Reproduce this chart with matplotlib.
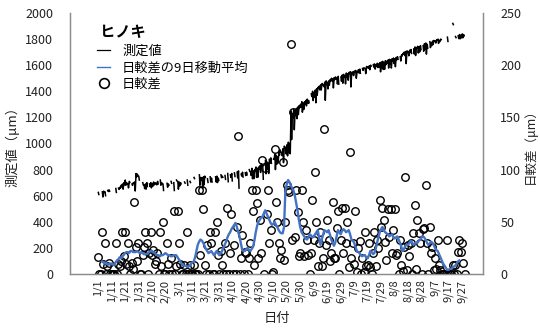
import numpy as np
import matplotlib
matplotlib.use('Agg')
import matplotlib.pyplot as plt
from matplotlib.lines import Line2D

plt.rcParams['font.family'] = ['Noto Sans CJK JP', 'DejaVu Sans']

# 日較差 (um), one value per day starting 1/1
day_range = [
    16, 0, 0, 40, 10, 30, 0, 8, 11, 0,
    0, 0, 0, 30, 0, 10, 8, 12, 40, 17,
    40, 10, 30, 8, 0, 11, 5, 69, 26, 12,
    30, 0, 0, 18, 26, 40, 30, 0, 20, 40,
    18, 23, 10, 12, 20, 0, 40, 8, 50, 0,
    0, 30, 10, 0, 15, 0, 60, 0, 8, 60,
    30, 10, 0, 0, 9, 0, 40, 0, 9, 0,
    0, 9, 0, 0, 0, 80, 18, 80, 62, 9,
    0, 28, 0, 40, 30, 0, 0, 40, 50, 18,
    0, 22, 9, 0, 30, 0, 63, 0, 20, 57,
    0, 28, 0, 45, 132, 0, 15, 37, 0, 21,
    20, 0, 15, 30, 80, 60, 9, 80, 68, 15,
    52, 20, 109, 0, 102, 57, 80, 30, 42, 0,
    2, 120, 69, 50, 30, 15, 23, 107, 13, 50,
    85, 80, 79, 220, 33, 155, 35, 80, 59, 17,
    20, 80, 50, 17, 42, 33, 18, 0, 20, 71,
    33, 98, 50, 8, 30, 40, 8, 15, 139, 28,
    52, 33, 12, 20, 69, 15, 15, 44, 60, 0,
    33, 63, 20, 63, 30, 50, 7, 117, 15, 30,
    10, 60, 2, 25, 32, 0, 15, 2, 40, 8,
    9, 30, 7, 0, 20, 40, 8, 33, 25, 71,
    45, 63, 52, 31, 13, 62, 35, 62, 20, 42,
    62, 18, 20, 0, 33, 9, 3, 26, 93, 4,
    28, 17, 30, 0, 39, 66, 5, 52, 39, 30,
    0, 43, 44, 85, 30, 0, 45, 20, 26, 4,
    15, 5, 33, 9, 4, 0, 0, 0, 0, 33,
    0, 0, 0, 9, 0, 9, 0, 21, 33, 21, 30, 11, 0,
]

# daily maximum of the stem measurement (um)
meas_top = [
    625, 620, 615, 630, 635, 630, 628, 640, 645, 640,
    642, 650, 648, 655, 660, 658, 665, 680, 690, 700,
    720, 700, 690, 710, 700, 690, 700, 705, 770, 765,
    750, 740, 745, 700, 680, 690, 700, 710, 690, 700,
    690, 705, 700, 695, 710, 700, 720, 700, 690, 705,
    700, 695, 690, 700, 710, 705, 700, 690, 720, 710,
    705, 700, 715, 720, 705, 700, 720, 715, 710, 720,
    725, 740, 730, 750, 730, 760, 740, 735, 745, 750,
    740, 730, 750, 745, 735, 740, 760, 745, 750, 735,
    745, 760, 750, 740, 755, 760, 770, 765, 760, 770,
    760, 775, 770, 780, 790, 770, 765, 780, 790, 775,
    780, 790, 800, 785, 810, 790, 800, 820, 810, 820,
    830, 845, 835, 850, 870, 860, 850, 880, 890, 900,
    880, 920, 910, 900, 940, 950, 930, 960, 980, 970,
    990, 1010, 1000, 1250, 1230, 1260, 1250, 1270, 1280, 1290,
    1300, 1320, 1310, 1320, 1330, 1340, 1330, 1360, 1380, 1400,
    1390, 1410, 1420, 1430, 1440, 1450, 1460, 1450, 1470, 1480,
    1470, 1480, 1490, 1500, 1495, 1505, 1510, 1500, 1515, 1520,
    1510, 1525, 1530, 1520, 1540, 1535, 1545, 1550, 1545, 1550,
    1555, 1560, 1550, 1565, 1570, 1565, 1575, 1580, 1575, 1590,
    1585, 1595, 1600, 1590, 1605, 1610, 1600, 1615, 1610, 1620,
    1625, 1630, 1620, 1635, 1630, 1640, 1645, 1640, 1650, 1655,
    1650, 1660, 1665, 1670, 1665, 1680, 1690, 1700, 1705, 1710,
    1700, 1715, 1720, 1710, 1725, 1740, 1735, 1745, 1740, 1750,
    1755, 1750, 1765, 1770, 1760, 1775, 1780, 1770, 1785, 1790,
    1785, 1795, 1800, 1790, 1800, 1805, 1800, 1810, 1805, 1815,
    1810, 1820, 1815, 1920, 1825, 1820, 1830, 1825, 1835, 1830, 1840, 1835, 1830,
]

# 9-day moving average of 日較差, first value belongs to day 3
ma_start = 3
ma_values = [
    12, 11, 10, 11, 9, 9, 10,
    10, 9, 9, 11, 13, 14, 16, 15, 17, 18,
    20, 21, 21, 20, 22, 22, 21, 21, 21, 22,
    21, 20, 21, 20, 19, 19, 19, 20, 21, 22,
    22, 21, 20, 19, 18, 18, 17, 18, 18, 19,
    20, 19, 18, 18, 17, 17, 18, 18, 18, 16,
    14, 12, 10, 8, 8, 8, 7, 7, 8, 10,
    11, 12, 16, 22, 28, 31, 33, 32, 30, 27,
    24, 22, 20, 21, 22, 20, 18, 20, 22, 20,
    18, 20, 22, 25, 28, 31, 35, 38, 40, 43,
    45, 47, 49, 45, 40, 36, 29, 23, 22, 22,
    24, 25, 23, 22, 24, 26, 32, 40, 46, 50,
    52, 54, 55, 58, 61, 58, 55, 52, 49, 47,
    48, 50, 47, 45, 42, 40, 39, 39, 45, 80,
    86, 90, 88, 85, 82, 80, 75, 68, 61, 52,
    45, 40, 38, 36, 34, 33, 35, 38, 37, 35,
    36, 38, 40, 42, 35, 28, 33, 38, 42, 41,
    40, 42, 38, 33, 30, 27, 30, 36, 42, 40,
    38, 41, 43, 42, 40, 41, 42, 38, 33, 32,
    30, 26, 22, 21, 20, 18, 17, 18, 18, 16,
    15, 18, 22, 21, 19, 20, 24, 30, 35, 40,
    43, 45, 42, 40, 39, 38, 36, 37, 38, 36,
    34, 35, 36, 33, 30, 26, 22, 24, 27, 28,
    28, 30, 32, 30, 28, 29, 30, 30, 32, 33,
    35, 36, 35, 33, 30, 28, 29, 31, 30, 28,
    25, 23, 22, 19, 16, 13, 10, 8, 6, 4,
    4, 5, 5, 6, 7, 8, 10, 12, 13,
]

date_labels = ['1/1', '1/11', '1/21', '1/31', '2/10', '2/20', '3/1', '3/11',
               '3/21', '3/31', '4/10', '4/20', '4/30', '5/10', '5/20', '5/30',
               '6/9', '6/19', '6/29', '7/9', '7/19', '7/29', '8/8', '8/18',
               '8/28', '9/7', '9/17', '9/27']

text_color = '#222222'
axis_color = '#8c8c8c'
blue = '#4472c4'

# measured series: morning maximum then afternoon minimum for each day,
# broken where no daily range was recorded
mx, my = [], []
for d, (top, rng) in enumerate(zip(meas_top, day_range)):
    if rng == 0:
        mx.append(np.nan)
        my.append(np.nan)
        continue
    mx += [d + 0.2, d + 0.6]
    my += [top, top - rng]

fig = plt.figure(figsize=(5.40, 3.28), dpi=100)
ax = fig.add_axes([70 / 540, 1 - 274 / 328, 413 / 540, 261 / 328])
ax2 = ax.twinx()

ax.plot(mx, my, color='black', lw=1.1)

days = np.arange(len(day_range))
ax2.plot(days, day_range, ls='none', marker='o', ms=5.4, mfc='none',
         mec='black', mew=1.0)
ma_days = np.arange(ma_start, ma_start + len(ma_values))
ax2.plot(ma_days, ma_values, color=blue, lw=1.7)

ax.set_xlim(-20.8, 285.6)
ax.set_ylim(0, 2000)
ax2.set_ylim(0, 250)

ax.set_yticks(np.arange(0, 2001, 200))
ax2.set_yticks(np.arange(0, 251, 50))
ax.set_xticks(np.arange(len(date_labels)) * 10)
ax.set_xticklabels(date_labels, rotation=90, fontsize=8, color=text_color)
ax.tick_params(axis='x', length=0, pad=4)
ax.tick_params(axis='y', length=0, labelsize=9, labelcolor=text_color, pad=12)
ax2.tick_params(axis='y', length=0, labelsize=9, labelcolor=text_color, pad=12.5)

# small inward marks at the top of both value axes
ax.set_yticks([2000], minor=True)
ax2.set_yticks([250], minor=True)
ax.tick_params(axis='y', which='minor', direction='in', length=4,
               color=axis_color)
ax2.tick_params(axis='y', which='minor', direction='in', length=4,
                color=axis_color)

for a in (ax, ax2):
    a.spines['top'].set_visible(False)
    for s in ('left', 'right', 'bottom'):
        a.spines[s].set_color(axis_color)
        a.spines[s].set_linewidth(0.9)

ax.set_ylabel('測定値（μm）', fontsize=9.5, color=text_color, labelpad=4)
ax2.set_ylabel('日較差（μm）', fontsize=9, color=text_color, labelpad=1)
ax.set_xlabel('日付', fontsize=9.5, color=text_color, labelpad=7)

fig.text(100 / 540, 1 - 32 / 328, 'ヒノキ', fontsize=11, fontweight='bold',
         va='center', ha='left', color='black')

handles = [Line2D([0], [0], color='black', lw=0.9),
           Line2D([0], [0], color=blue, lw=1.0),
           Line2D([0], [0], ls='none', marker='o', ms=7, mfc='none',
                  mec='black', mew=1.2)]
labels = ['測定値', '日較差の9日移動平均', '日較差']
ax2.legend(handles, labels, loc='upper left',
           bbox_to_anchor=(97 / 540, 1 - 45 / 328),
           bbox_transform=fig.transFigure, frameon=False, fontsize=9.5,
           handlelength=1.0, handletextpad=0.9, labelspacing=0.25,
           borderpad=0, borderaxespad=0)

fig.savefig('out.png', dpi=100)
